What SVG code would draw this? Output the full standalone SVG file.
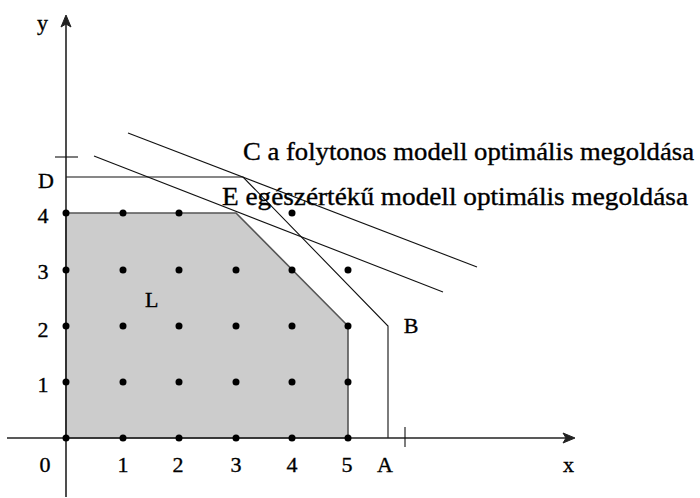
<svg xmlns="http://www.w3.org/2000/svg" width="700" height="498" viewBox="0 0 700 498">
<style>
text{font-family:"Liberation Serif","Times New Roman",serif;font-size:22px;fill:#000;stroke:#000;stroke-width:0.35}
.big{font-size:25px}
.ax{stroke:#222;stroke-width:1.6;fill:none}
.ah{fill:#222;stroke:#222;stroke-width:1}
.ln{stroke:#111;stroke-width:1.1;fill:none}
.dot{fill:#000}
</style>
<rect width="700" height="498" fill="#fff"/>
<g id="region-L">
<polygon points="66,438 66,213 236,213 348,326 348,438" fill="#cccccc" stroke="#555" stroke-width="1.6"/>
<text x="145" y="307">L</text>
</g>
<g id="connectors">
<path class="ln" d="M66,177 L243,177 L388,326 L388,438"/>
<line class="ln" x1="128" y1="133" x2="477" y2="267"/>
<line class="ln" x1="94" y1="156" x2="443" y2="292"/>
</g>
<g id="axes">
<line class="ax" x1="66" y1="497" x2="66" y2="20"/>
<path class="ah" d="M66,15 L71,27 L66,24 L61,27 Z"/>
<line class="ax" x1="7" y1="438" x2="568" y2="438"/>
<path class="ah" d="M575,438 L563,443 L566,438 L563,433 Z"/>
<line class="ln" x1="55" y1="157" x2="78" y2="157"/>
<line class="ln" x1="405" y1="427" x2="405" y2="447"/>
<text x="37" y="30">y</text>
<text x="563" y="472">x</text>
</g>
<g id="labels" text-anchor="middle">
<text x="45" y="472">0</text>
<text x="123" y="472">1</text>
<text x="178" y="472">2</text>
<text x="236" y="472">3</text>
<text x="292" y="472">4</text>
<text x="347" y="472">5</text>
<text x="385" y="472">A</text>
<text x="43" y="392">1</text>
<text x="43" y="337">2</text>
<text x="43" y="279">3</text>
<text x="43" y="223">4</text>
<text x="46" y="188">D</text>
<text x="411" y="333">B</text>
</g>
<g id="dots" class="dot">
<circle cx="66" cy="438" r="3.5"/><circle cx="123" cy="438" r="3.5"/><circle cx="179" cy="438" r="3.5"/><circle cx="236" cy="438" r="3.5"/><circle cx="292" cy="438" r="3.5"/><circle cx="348" cy="438" r="3.5"/>
<circle cx="66" cy="382" r="3.5"/><circle cx="123" cy="382" r="3.5"/><circle cx="179" cy="382" r="3.5"/><circle cx="236" cy="382" r="3.5"/><circle cx="292" cy="382" r="3.5"/><circle cx="348" cy="382" r="3.5"/>
<circle cx="66" cy="326" r="3.5"/><circle cx="123" cy="326" r="3.5"/><circle cx="179" cy="326" r="3.5"/><circle cx="236" cy="326" r="3.5"/><circle cx="292" cy="326" r="3.5"/><circle cx="348" cy="326" r="3.5"/>
<circle cx="66" cy="270" r="3.5"/><circle cx="123" cy="270" r="3.5"/><circle cx="179" cy="270" r="3.5"/><circle cx="236" cy="270" r="3.5"/><circle cx="292" cy="270" r="3.5"/><circle cx="348" cy="270" r="3.5"/>
<circle cx="66" cy="213" r="3.5"/><circle cx="123" cy="213" r="3.5"/><circle cx="179" cy="213" r="3.5"/><circle cx="292" cy="213" r="3.5"/>
</g>
<g id="C-label"><text class="big" x="243" y="160" textLength="451" lengthAdjust="spacingAndGlyphs">C a folytonos modell optimális megoldása</text></g>
<g id="E-label"><text class="big" x="222" y="205" textLength="466" lengthAdjust="spacingAndGlyphs">E egészértékű modell optimális megoldása</text></g>
</svg>
